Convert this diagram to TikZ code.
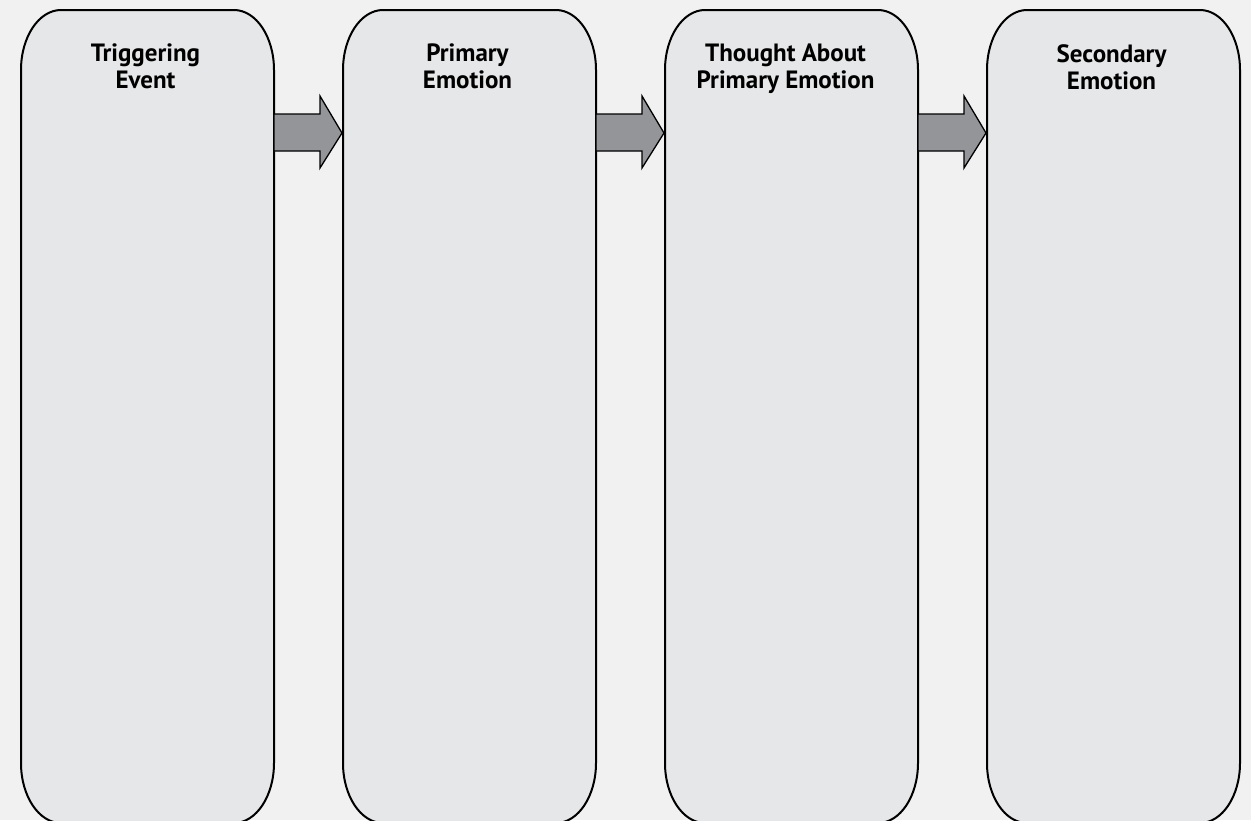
\documentclass[tikz,border=0pt]{standalone}
\usepackage{fontspec}
\setmainfont{PT Sans}
\usetikzlibrary{calc}
\definecolor{bgcol}{HTML}{F1F1F1}
\definecolor{boxcol}{HTML}{E6E7E8}
\definecolor{arrcol}{HTML}{939598}
\tikzset{
  boxarea/.style={draw=none, minimum width=253pt, minimum height=813pt, inner sep=0pt, outer sep=0pt},
  boxline/.style={draw=black, fill=boxcol, line width=2pt},
  title/.style={font=\bfseries\fontsize{25}{27}\selectfont, align=center, inner sep=0pt, anchor=north},
  flowarrow/.style={draw=black, fill=arrcol, line width=1.3pt, line join=miter},
}
\newcommand{\roundbox}[1]{%
  \draw[boxline] ([yshift=-60pt]#1.north west)
    arc[start angle=180, end angle=90, x radius=40pt, y radius=60pt]
    -- ([xshift=-40pt]#1.north east)
    arc[start angle=90, end angle=0, x radius=40pt, y radius=60pt]
    -- ([yshift=60pt]#1.south east)
    arc[start angle=0, end angle=-90, x radius=40pt, y radius=60pt]
    -- ([xshift=40pt]#1.south west)
    arc[start angle=-90, end angle=-180, x radius=40pt, y radius=60pt]
    -- cycle;}
\newcommand{\flowarr}[2]{%
  \draw[flowarrow] ([yshift=-104pt]#1.north east)
    -- ([xshift=46pt,yshift=-104pt]#1.north east)
    -- ([xshift=46pt,yshift=-86pt]#1.north east)
    -- ([xshift=-1pt,yshift=-123pt]#2.north west)
    -- ([xshift=46pt,yshift=-158pt]#1.north east)
    -- ([xshift=46pt,yshift=-141pt]#1.north east)
    -- ([yshift=-141pt]#1.north east)
    -- cycle;}
\begin{document}
\begin{tikzpicture}[x=1pt, y=-1pt]
\fill[bgcol] (0,0) rectangle (1251,820);
\useasboundingbox (0,0) rectangle (1251,820);
\clip (0,0) rectangle (1251,820);
\node[boxarea] (b1) at (147.5,416.5) {};
\node[boxarea] (b2) at (469.5,416.5) {};
\node[boxarea] (b3) at (791.5,416.5) {};
\node[boxarea] (b4) at (1113.5,416.5) {};
\roundbox{b1}
\roundbox{b2}
\roundbox{b3}
\roundbox{b4}
\flowarr{b1}{b2}
\flowarr{b2}{b3}
\flowarr{b3}{b4}
\node[title] (t1) at ([xshift=-2pt,yshift=-34pt]b1.north) {Triggering\\Event};
\node[title] (t2) at ([xshift=-2pt,yshift=-34pt]b2.north) {Primary\\Emotion};
\node[title] (t3) at ([xshift=-6pt,yshift=-34pt]b3.north) {Thought About\\Primary Emotion};
\node[title] (t4) at ([xshift=-2pt,yshift=-34pt]b4.north) {Secondary\\Emotion};
\end{tikzpicture}
\end{document}
